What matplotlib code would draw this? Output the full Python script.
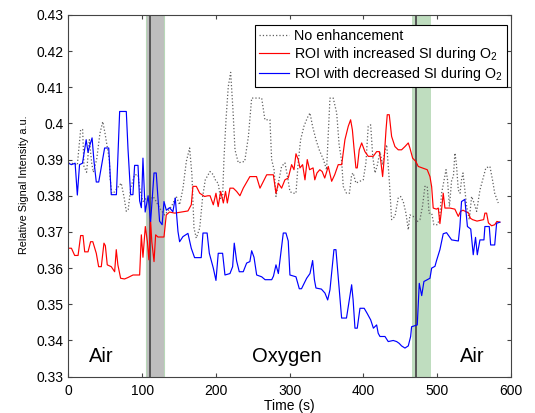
import numpy as np
import matplotlib
matplotlib.use('Agg')
import matplotlib.pyplot as plt

plt.rcParams['font.family'] = ['Liberation Sans', 'DejaVu Sans']
plt.rcParams['mathtext.fontset'] = 'custom'
plt.rcParams['mathtext.rm'] = 'Liberation Sans'

# --- dane ---
t_blue = [0, 4, 9, 12, 15, 19, 24, 26.5, 29, 32, 34.6, 37.7, 41, 49, 54.6, 58, 65, 69.4, 78.4, 80.7,
          84.3, 87.4, 89.7, 94.3, 96.5, 98.8, 101, 104, 108, 111.4, 116, 119, 123.5, 127, 129.5, 132.7,
          137, 141.6, 144.8, 148.5, 150.7, 155.2, 162, 166.5, 171, 180, 182.4, 188, 191, 196.4, 200,
          203.1, 209, 212.2, 219, 222.6, 224.8, 228, 231.6, 237, 241.6, 246, 248.4, 251.6, 255.2, 262,
          266.6, 275.6, 278, 281.4, 284.6, 287.7, 291.3, 294.9, 298, 300.3, 308.5, 313, 316, 323, 327.5,
          331.1, 333.5, 335.6, 343, 347.8, 351.5, 354.6, 360, 362.7, 366, 370.4, 377, 380.8, 384, 386,
          388.5, 391.6, 395.3, 401, 405, 409.8, 413.5, 417.9, 420, 422.4, 429.2, 433.6, 440.4, 445,
          448.5, 451.7, 456.3, 460.8, 464, 465.3, 473, 475.7, 479, 482, 490.2, 492.5, 497, 499, 503.7,
          508.2, 512.7, 519.6, 528.7, 530.8, 533, 537.5, 541, 545.5, 548.9, 552, 554.4, 558, 563.4,
          564.7, 570.6, 572.5, 578, 580.6, 585]
v_blue = [0.389, 0.3886, 0.389, 0.3802, 0.3886, 0.389, 0.3955, 0.392, 0.394, 0.396, 0.3895, 0.3838, 0.3838,
          0.3932, 0.3932, 0.3803, 0.3803, 0.4033, 0.4033, 0.393, 0.3803, 0.3803, 0.3884, 0.3884, 0.3786,
          0.3767, 0.3904, 0.3755, 0.380, 0.3729, 0.3863, 0.3863, 0.373, 0.372, 0.3784, 0.376, 0.3767,
          0.3756, 0.3794, 0.3701, 0.3673, 0.3687, 0.3696, 0.3655, 0.3629, 0.3629, 0.3697, 0.3697, 0.3641,
          0.3600, 0.3566, 0.3641, 0.3641, 0.3581, 0.3585, 0.3604, 0.3669, 0.3620, 0.3590, 0.3590, 0.3614,
          0.3618, 0.3648, 0.3630, 0.3581, 0.3576, 0.3568, 0.3568, 0.3578, 0.3609, 0.3585, 0.3637, 0.3697,
          0.3697, 0.3675, 0.3581, 0.3576, 0.3543, 0.3543, 0.3572, 0.3585, 0.3621, 0.3568, 0.3545, 0.3542,
          0.3531, 0.3512, 0.354, 0.3651, 0.3651, 0.3570, 0.3462, 0.3462, 0.3512, 0.3554, 0.3512, 0.3434,
          0.3434, 0.3489, 0.3489, 0.3475, 0.3457, 0.3434, 0.3443, 0.3420, 0.3411, 0.3411, 0.3397, 0.3400,
          0.3397, 0.3392, 0.3385, 0.3379, 0.3385, 0.3411, 0.3438, 0.3443, 0.3558, 0.3524, 0.3563, 0.3572,
          0.3600, 0.3605, 0.3620, 0.3651, 0.3695, 0.3698, 0.3678, 0.3675, 0.3715, 0.3784, 0.3790, 0.3715,
          0.3708, 0.3637, 0.3685, 0.3637, 0.3678, 0.3678, 0.3715, 0.3715, 0.3664, 0.3664, 0.3724, 0.3727]

t_red = [0, 4, 8.4, 13, 16.5, 19.7, 22, 26.5, 30, 33, 37.7, 40.9, 44.5, 48.1, 50, 52.6, 58, 62.6, 64.8, 67,
         70.7, 76, 80.7, 87.5, 96.5, 98.8, 101, 104.2, 107, 109, 111.4, 113, 116, 118.2, 121.3, 129.5,
         132.6, 137, 144, 153, 162, 166.5, 168.8, 173.4, 178, 184.6, 189, 192, 196.4, 200, 203, 206.4,
         210, 213, 215.4, 219, 223.5, 228, 232.5, 237, 246, 255, 259.7, 268.8, 277.8, 281.4, 284.6, 289,
         293.5, 298, 302.6, 305.8, 308.5, 311.6, 313.9, 317.5, 320.7, 323.8, 327, 331.7, 334, 337, 340.8,
         344, 347.5, 352.3, 356.9, 361, 365.8, 370.5, 374.9, 379.4, 382.6, 385, 387, 389.8, 391.6, 394.3,
         397.6, 402, 406.5, 413.3, 417.9, 421.5, 423.3, 426, 428, 430.6, 432.3, 435, 438.2, 442.7, 447.2,
         451.7, 456.3, 460.8, 463, 466.7, 471, 474.3, 481, 486.5, 490.2, 492.5, 494.6, 499, 501.5, 503.7,
         506, 508.2, 510.5, 517.3, 524, 528.6, 531.7, 535, 538, 542.6, 545, 548, 554, 563, 564.7, 567,
         569.5, 573.8, 578, 581, 585]
v_red = [0.3655, 0.3655, 0.3635, 0.3635, 0.369, 0.369, 0.3645, 0.3645, 0.3673, 0.3673, 0.3641, 0.3604, 0.3604,
         0.3669, 0.3662, 0.3609, 0.3604, 0.3590, 0.3651, 0.3609, 0.3572, 0.3570, 0.3574, 0.3581, 0.3581,
         0.3692, 0.3630, 0.3715, 0.3673, 0.3623, 0.3729, 0.3673, 0.3618, 0.3692, 0.3686, 0.3686, 0.3747,
         0.3755, 0.3752, 0.3755, 0.3758, 0.3775, 0.3826, 0.3826, 0.3807, 0.3798, 0.3800, 0.3800, 0.3775,
         0.3807, 0.3770, 0.3812, 0.3780, 0.3812, 0.378, 0.3821, 0.3821, 0.3812, 0.38, 0.3821, 0.3853,
         0.3853, 0.3821, 0.3858, 0.3858, 0.3807, 0.3835, 0.3821, 0.3844, 0.3849, 0.3886, 0.3872, 0.3916,
         0.3900, 0.3877, 0.3886, 0.3844, 0.3900, 0.3872, 0.3877, 0.3844, 0.3863, 0.3872, 0.3867, 0.3849,
         0.3881, 0.3840, 0.3858, 0.3886, 0.3886, 0.3955, 0.3992, 0.401, 0.3982, 0.3936, 0.3877, 0.3877,
         0.3927, 0.3946, 0.3922, 0.3909, 0.3909, 0.3922, 0.3922, 0.3900, 0.3853, 0.3900, 0.3982, 0.4024,
         0.4024, 0.3964, 0.3936, 0.3927, 0.3927, 0.3936, 0.3946, 0.3932, 0.3904, 0.3895, 0.3881, 0.3876,
         0.3872, 0.3853, 0.3825, 0.3766, 0.3763, 0.3766, 0.3723, 0.3763, 0.3807, 0.3766, 0.3766, 0.3763,
         0.3743, 0.3757, 0.3760, 0.3757, 0.3752, 0.3738, 0.3734, 0.3730, 0.3734, 0.3752, 0.3752, 0.3725,
         0.3717, 0.3720, 0.3729, 0.3727]

t_gray = [0, 4.3, 12, 16.5, 19.2, 21, 24.6, 28.3, 31.5, 33.7, 38.2, 42.7, 46.5, 49.5, 51.8, 55.4, 56.3, 58.6,
          62, 66, 71.5, 75.3, 78.4, 81, 84.3, 89.7, 94.3, 96.5, 101, 105.7, 110, 114.7, 119, 123.5, 130.4,
          139.5, 146.2, 150.7, 155.3, 159.8, 164.3, 167.4, 170.2, 173.3, 178, 182, 185.5, 191.9, 196.4, 200,
          203, 206.4, 209, 210.8, 213.6, 216.7, 219.9, 223, 225.8, 230.3, 239, 244, 248.4, 262, 266.4,
          273.2, 275.5, 278.8, 281.4, 284.6, 289, 293.5, 296.6, 300.3, 304, 308.5, 311.5, 314.8, 319.3,
          323.8, 327.5, 331, 335.6, 340, 345.7, 350, 354.6, 359, 363.7, 367, 370.5, 372.6, 377, 381, 384,
          386, 389.8, 395, 399.7, 403.3, 406.5, 409.8, 412.6, 415.7, 419, 422.4, 426, 429, 431.5, 435,
          438.2, 442.7, 447.2, 450.4, 454, 457.6, 460.8, 463, 467.5, 473, 476.6, 480, 483.4, 486.5, 489,
          492.5, 495.6, 500, 503, 506, 512, 514, 516.6, 519.6, 522, 524, 526, 528.6, 531, 533, 535, 540,
          543.5, 546.7, 550, 553.5, 558, 561.7, 566, 571.5, 575, 578, 582.8]
v_gray = [0.389, 0.389, 0.3885, 0.3983, 0.3983, 0.3881, 0.3865, 0.3955, 0.3890, 0.3865, 0.3900, 0.3973,
          0.4005, 0.3973, 0.3945, 0.3900, 0.3853, 0.3807, 0.3810, 0.3821, 0.3835, 0.3797, 0.3757, 0.3762,
          0.3821, 0.3858, 0.3858, 0.3821, 0.3784, 0.3793, 0.3784, 0.3798, 0.3784, 0.3766, 0.3747, 0.3770,
          0.3798, 0.3775, 0.3821, 0.3895, 0.3932, 0.3858, 0.3711, 0.3683, 0.3711, 0.3798, 0.3844, 0.3867,
          0.3858, 0.3840, 0.3835, 0.3790, 0.3795, 0.39, 0.401, 0.4102, 0.4141, 0.4040, 0.3927, 0.3891,
          0.3895, 0.3964, 0.4070, 0.4070, 0.401, 0.401, 0.39, 0.3872, 0.3798, 0.3835, 0.3881, 0.3891,
          0.3858, 0.3812, 0.3807, 0.3807, 0.3891, 0.3955, 0.3992, 0.4015, 0.4029, 0.3992, 0.3955, 0.3927,
          0.3900, 0.3872, 0.4070, 0.4070, 0.4029, 0.3941, 0.3895, 0.3826, 0.3807, 0.3807, 0.3858, 0.3863,
          0.3835, 0.3840, 0.3844, 0.3890, 0.3992, 0.3996, 0.3909, 0.3863, 0.3886, 0.3922, 0.3886, 0.3922,
          0.3941, 0.3844, 0.3734, 0.3743, 0.3794, 0.3798, 0.3784, 0.3752, 0.3706, 0.3747, 0.3743, 0.3729,
          0.3734, 0.3770, 0.3826, 0.3826, 0.3752, 0.3752, 0.372, 0.372, 0.3734, 0.3807, 0.3872, 0.3844,
          0.3770, 0.3844, 0.3853, 0.3918, 0.3890, 0.3816, 0.3807, 0.3844, 0.3863, 0.3770, 0.3734, 0.3798,
          0.3780, 0.3757, 0.3816, 0.3844, 0.3877, 0.3881, 0.3844, 0.3807, 0.378]

y_ticks = [0.33, 0.34, 0.35, 0.36, 0.37, 0.38, 0.39, 0.40, 0.41, 0.42, 0.43]
y_tick_labels = ['0.33', '0.34', '0.35', '0.36', '0.37', '0.38', '0.39', '0.4', '0.41', '0.42', '0.43']

# przejscia gazu (pasy i linie)
przejscie_1 = (104.7, 129.9, 110)
przejscie_2 = (465.3, 491, 471)

# --- WYKRES ---
fig = plt.figure(figsize=(5.35, 4.13), dpi=100)
ax = fig.add_axes([0.128, 0.088, 0.827, 0.876])

ax.axvspan(przejscie_1[0], przejscie_1[1], facecolor='#bebebe', edgecolor='#b8d8b8', lw=0.8, zorder=0)
ax.axvspan(przejscie_2[0], przejscie_2[1], facecolor='#bfddbf', edgecolor='none', zorder=0)
ax.axvline(przejscie_1[2], color='#555555', lw=1.4, zorder=1)
ax.axvline(przejscie_2[2], color='#555555', lw=1.4, zorder=1)

ax.plot(t_gray, v_gray, ':', color='#606060', lw=0.9, label='No enhancement')
ax.plot(t_red, v_red, '-', color='#ff0000', lw=0.85, label='ROI with increased SI during O$_2$')
ax.plot(t_blue, v_blue, '-', color='#0000ff', lw=0.85, label='ROI with decreased SI during O$_2$')

ax.set_xlim(0, 600)
ax.set_ylim(0.33, 0.43)
ax.set_xticks(np.arange(0, 601, 100))
ax.set_yticks(y_ticks)
ax.set_yticklabels(y_tick_labels)
ax.tick_params(direction='in', top=True, right=True, labelsize=10, length=3, color='#444444')
ax.tick_params(axis='x', pad=5)
for s in ax.spines.values():
    s.set_color('#444444')

ax.set_xlabel('Time (s)', fontsize=10, labelpad=1)
ax.set_ylabel('Relative Signal Intensity a.u.', fontsize=7.8)
ax.yaxis.set_label_coords(-0.09, 0.53)

ax.text(45, 0.3355, 'Air', fontsize=14.5, ha='center', va='center')
ax.text(296, 0.3355, 'Oxygen', fontsize=14.5, ha='center', va='center')
ax.text(547, 0.3355, 'Air', fontsize=14.5, ha='center', va='center')

leg = ax.legend(loc='upper right', bbox_to_anchor=(0.990, 0.972), borderaxespad=0,
                fontsize=10.3, fancybox=False, framealpha=1, edgecolor='black',
                handlelength=2.1, handletextpad=0.3, labelspacing=0.12, borderpad=0.3)
leg.get_frame().set_linewidth(0.8)

fig.savefig('out.png', dpi=100)
